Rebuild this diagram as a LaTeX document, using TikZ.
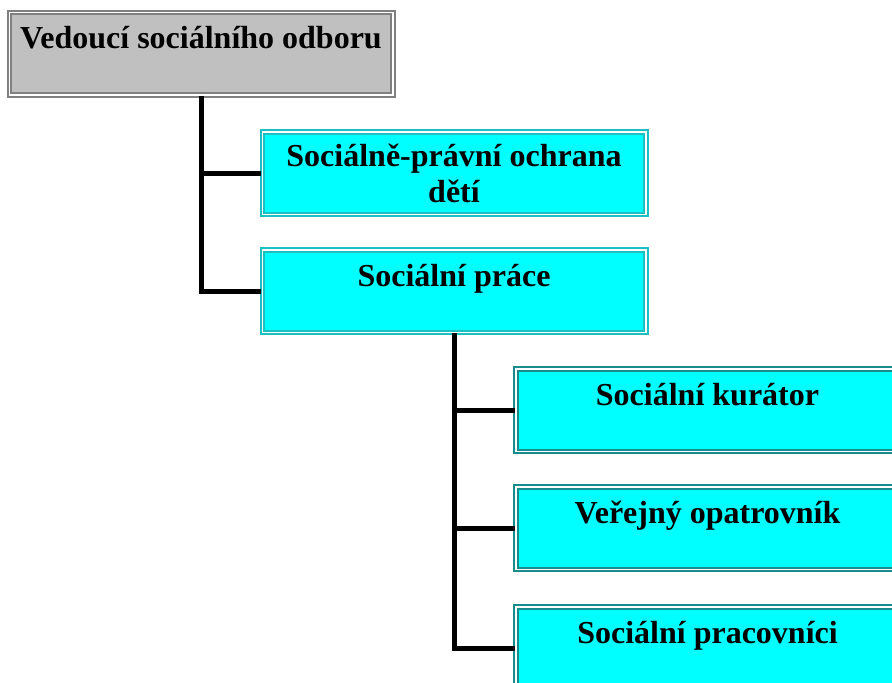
\documentclass[tikz,border=0pt]{standalone}
\usepackage{fontspec}
\setmainfont{Liberation Serif}
\usepackage{tikz}

\definecolor{headfill}{RGB}{192,192,192}
\definecolor{headedge}{RGB}{128,128,128}
\definecolor{unitfill}{RGB}{0,255,255}
\definecolor{unitedge}{RGB}{28,192,192}
\definecolor{subedge}{RGB}{24,140,140}

\tikzset{
  orgbox/.style={rectangle, line width=2pt, double distance=1.5pt,
    double=white, minimum width=383.5pt, minimum height=82.5pt, inner sep=0pt,
    font=\fontsize{32}{36}\selectfont\bfseries, align=center},
  onerow/.style={text height=36.25pt, text depth=46.25pt},
  conn/.style={line width=5pt, line join=miter, black}
}

\begin{document}
\begin{tikzpicture}[x=1pt, y=-1pt]

  \useasboundingbox (0,0) rectangle (892,683);
  \clip (0,0) rectangle (892,683);

  \node[orgbox, onerow, draw=headedge, fill=headfill] (vedouci) at (201,53.5)
    {Vedoucí sociálního odboru};

  \node[orgbox, draw=unitedge, fill=unitfill] (ochrana) at (454,173)
    {Sociálně-právní ochrana\\dětí};
  \node[orgbox, onerow, draw=unitedge, fill=unitfill] (prace) at (454,291)
    {Sociální práce};

  \node[orgbox, onerow, draw=subedge, fill=unitfill] (kurator) at (707.5,410)
    {Sociální kurátor};
  \node[orgbox, onerow, draw=subedge, fill=unitfill] (opatrovnik) at (707.5,528)
    {Veřejný opatrovník};
  \node[orgbox, onerow, draw=subedge, fill=unitfill] (pracovnici) at (707.5,648)
    {Sociální pracovníci};

  \draw[conn] (vedouci.south) |- (ochrana.west);
  \draw[conn] (vedouci.south) |- (prace.west);

  \draw[conn] (prace.south) |- (kurator.west);
  \draw[conn] (prace.south) |- (opatrovnik.west);
  \draw[conn] (prace.south) |- (pracovnici.west);

\end{tikzpicture}
\end{document}
